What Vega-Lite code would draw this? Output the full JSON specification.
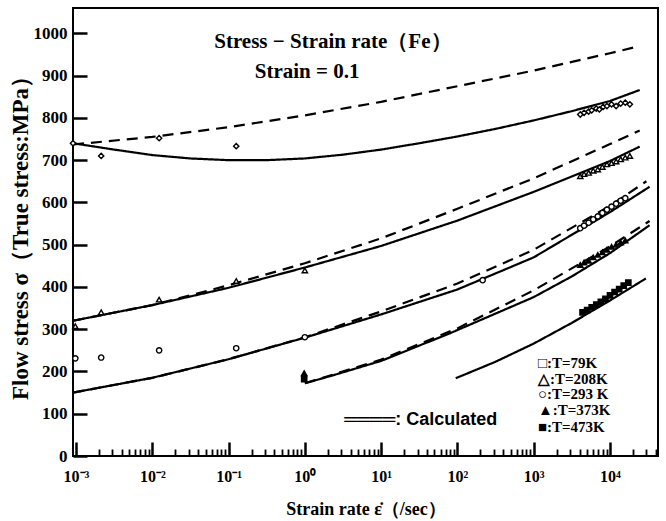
{
  "$schema": "https://vega.github.io/schema/vega-lite/v6.json",
  "width": 585,
  "height": 448,
  "autosize": "none",
  "padding": {"left": 73, "top": 8, "right": 8, "bottom": 65},
  "background": "white",
  "config": {"view": {"stroke": "black", "strokeWidth": 2}, "font": "Liberation Serif"},
  "datasets": {
    "curves": [
      {"curve": "79K calc", "kind": "calc", "rate": 0.000914, "stress": 737},
      {"curve": "79K calc", "kind": "calc", "rate": 0.01, "stress": 755},
      {"curve": "79K calc", "kind": "calc", "rate": 0.1, "stress": 778},
      {"curve": "79K calc", "kind": "calc", "rate": 1, "stress": 806},
      {"curve": "79K calc", "kind": "calc", "rate": 10, "stress": 838},
      {"curve": "79K calc", "kind": "calc", "rate": 100, "stress": 875},
      {"curve": "79K calc", "kind": "calc", "rate": 1000, "stress": 912},
      {"curve": "79K calc", "kind": "calc", "rate": 10000, "stress": 953},
      {"curve": "79K calc", "kind": "calc", "rate": 24500, "stress": 970},
      {"curve": "79K model", "kind": "model", "rate": 0.000914, "stress": 740},
      {"curve": "79K model", "kind": "model", "rate": 0.00316, "stress": 725},
      {"curve": "79K model", "kind": "model", "rate": 0.01, "stress": 712},
      {"curve": "79K model", "kind": "model", "rate": 0.0316, "stress": 704},
      {"curve": "79K model", "kind": "model", "rate": 0.1, "stress": 700},
      {"curve": "79K model", "kind": "model", "rate": 0.316, "stress": 700},
      {"curve": "79K model", "kind": "model", "rate": 1, "stress": 704},
      {"curve": "79K model", "kind": "model", "rate": 3.16, "stress": 713},
      {"curve": "79K model", "kind": "model", "rate": 10, "stress": 725},
      {"curve": "79K model", "kind": "model", "rate": 31.6, "stress": 740},
      {"curve": "79K model", "kind": "model", "rate": 100, "stress": 756},
      {"curve": "79K model", "kind": "model", "rate": 316, "stress": 774},
      {"curve": "79K model", "kind": "model", "rate": 1000, "stress": 794},
      {"curve": "79K model", "kind": "model", "rate": 3162, "stress": 816},
      {"curve": "79K model", "kind": "model", "rate": 10000, "stress": 840},
      {"curve": "79K model", "kind": "model", "rate": 24500, "stress": 866},
      {"curve": "208K calc", "kind": "calc", "rate": 0.000914, "stress": 320},
      {"curve": "208K calc", "kind": "calc", "rate": 0.01, "stress": 357},
      {"curve": "208K calc", "kind": "calc", "rate": 0.1, "stress": 404},
      {"curve": "208K calc", "kind": "calc", "rate": 1, "stress": 456},
      {"curve": "208K calc", "kind": "calc", "rate": 10, "stress": 515},
      {"curve": "208K calc", "kind": "calc", "rate": 100, "stress": 585},
      {"curve": "208K calc", "kind": "calc", "rate": 1000, "stress": 657},
      {"curve": "208K calc", "kind": "calc", "rate": 10000, "stress": 738},
      {"curve": "208K calc", "kind": "calc", "rate": 24500, "stress": 770},
      {"curve": "208K model", "kind": "model", "rate": 0.000914, "stress": 320},
      {"curve": "208K model", "kind": "model", "rate": 0.01, "stress": 357},
      {"curve": "208K model", "kind": "model", "rate": 0.1, "stress": 398},
      {"curve": "208K model", "kind": "model", "rate": 1, "stress": 446},
      {"curve": "208K model", "kind": "model", "rate": 10, "stress": 497},
      {"curve": "208K model", "kind": "model", "rate": 100, "stress": 557},
      {"curve": "208K model", "kind": "model", "rate": 1000, "stress": 625},
      {"curve": "208K model", "kind": "model", "rate": 10000, "stress": 698},
      {"curve": "208K model", "kind": "model", "rate": 24500, "stress": 732},
      {"curve": "293K calc", "kind": "calc", "rate": 0.000914, "stress": 150},
      {"curve": "293K calc", "kind": "calc", "rate": 0.01, "stress": 185},
      {"curve": "293K calc", "kind": "calc", "rate": 0.1, "stress": 229},
      {"curve": "293K calc", "kind": "calc", "rate": 1, "stress": 281},
      {"curve": "293K calc", "kind": "calc", "rate": 10, "stress": 342},
      {"curve": "293K calc", "kind": "calc", "rate": 100, "stress": 408},
      {"curve": "293K calc", "kind": "calc", "rate": 1000, "stress": 488},
      {"curve": "293K calc", "kind": "calc", "rate": 10000, "stress": 592},
      {"curve": "293K calc", "kind": "calc", "rate": 30000, "stress": 650},
      {"curve": "293K model", "kind": "model", "rate": 0.000914, "stress": 150},
      {"curve": "293K model", "kind": "model", "rate": 0.01, "stress": 185},
      {"curve": "293K model", "kind": "model", "rate": 0.1, "stress": 229},
      {"curve": "293K model", "kind": "model", "rate": 1, "stress": 280},
      {"curve": "293K model", "kind": "model", "rate": 10, "stress": 335},
      {"curve": "293K model", "kind": "model", "rate": 100, "stress": 394},
      {"curve": "293K model", "kind": "model", "rate": 1000, "stress": 470},
      {"curve": "293K model", "kind": "model", "rate": 10000, "stress": 577},
      {"curve": "293K model", "kind": "model", "rate": 33000, "stress": 637},
      {"curve": "373K calc", "kind": "calc", "rate": 1, "stress": 172},
      {"curve": "373K calc", "kind": "calc", "rate": 10, "stress": 228},
      {"curve": "373K calc", "kind": "calc", "rate": 100, "stress": 302},
      {"curve": "373K calc", "kind": "calc", "rate": 1000, "stress": 392},
      {"curve": "373K calc", "kind": "calc", "rate": 10000, "stress": 496},
      {"curve": "373K calc", "kind": "calc", "rate": 33000, "stress": 556},
      {"curve": "373K model", "kind": "model", "rate": 1, "stress": 172},
      {"curve": "373K model", "kind": "model", "rate": 2.35, "stress": 191},
      {"curve": "373K model", "kind": "model", "rate": 10, "stress": 225},
      {"curve": "373K model", "kind": "model", "rate": 79, "stress": 290},
      {"curve": "373K model", "kind": "model", "rate": 1000, "stress": 376},
      {"curve": "373K model", "kind": "model", "rate": 3162, "stress": 425},
      {"curve": "373K model", "kind": "model", "rate": 10000, "stress": 480},
      {"curve": "373K model", "kind": "model", "rate": 33000, "stress": 546},
      {"curve": "473K model", "kind": "model", "rate": 95, "stress": 184},
      {"curve": "473K model", "kind": "model", "rate": 316, "stress": 223},
      {"curve": "473K model", "kind": "model", "rate": 1000, "stress": 266},
      {"curve": "473K model", "kind": "model", "rate": 3162, "stress": 315},
      {"curve": "473K model", "kind": "model", "rate": 10000, "stress": 368},
      {"curve": "473K model", "kind": "model", "rate": 29500, "stress": 420}
    ],
    "points": [
      {"T": "79K", "rate": 0.000914, "stress": 740},
      {"T": "79K", "rate": 0.00214, "stress": 710},
      {"T": "79K", "rate": 0.0123, "stress": 752},
      {"T": "79K", "rate": 0.126, "stress": 733},
      {"T": "79K", "rate": 4074, "stress": 808},
      {"T": "79K", "rate": 4571, "stress": 812},
      {"T": "79K", "rate": 5248, "stress": 815},
      {"T": "79K", "rate": 5754, "stress": 818},
      {"T": "79K", "rate": 6607, "stress": 822},
      {"T": "79K", "rate": 7244, "stress": 820},
      {"T": "79K", "rate": 8128, "stress": 826},
      {"T": "79K", "rate": 9120, "stress": 828},
      {"T": "79K", "rate": 10471, "stress": 832},
      {"T": "79K", "rate": 12023, "stress": 828},
      {"T": "79K", "rate": 13804, "stress": 834},
      {"T": "79K", "rate": 15849, "stress": 836},
      {"T": "79K", "rate": 18197, "stress": 832},
      {"T": "208K", "rate": 0.00098, "stress": 307},
      {"T": "208K", "rate": 0.00214, "stress": 340},
      {"T": "208K", "rate": 0.0123, "stress": 370},
      {"T": "208K", "rate": 0.126, "stress": 414},
      {"T": "208K", "rate": 1, "stress": 439},
      {"T": "208K", "rate": 4074, "stress": 662},
      {"T": "208K", "rate": 4571, "stress": 667},
      {"T": "208K", "rate": 5248, "stress": 670},
      {"T": "208K", "rate": 6026, "stress": 675},
      {"T": "208K", "rate": 6918, "stress": 678},
      {"T": "208K", "rate": 7943, "stress": 684},
      {"T": "208K", "rate": 9120, "stress": 690},
      {"T": "208K", "rate": 10471, "stress": 693},
      {"T": "208K", "rate": 12023, "stress": 697},
      {"T": "208K", "rate": 13804, "stress": 702},
      {"T": "208K", "rate": 15849, "stress": 706},
      {"T": "208K", "rate": 18197, "stress": 710},
      {"T": "293K", "rate": 0.00098, "stress": 231},
      {"T": "293K", "rate": 0.00214, "stress": 233},
      {"T": "293K", "rate": 0.0123, "stress": 250},
      {"T": "293K", "rate": 0.126, "stress": 255},
      {"T": "293K", "rate": 1, "stress": 281},
      {"T": "293K", "rate": 214, "stress": 416},
      {"T": "293K", "rate": 4074, "stress": 539},
      {"T": "293K", "rate": 4571, "stress": 545},
      {"T": "293K", "rate": 5248, "stress": 552},
      {"T": "293K", "rate": 6026, "stress": 560},
      {"T": "293K", "rate": 6918, "stress": 567},
      {"T": "293K", "rate": 7943, "stress": 575},
      {"T": "293K", "rate": 9120, "stress": 583},
      {"T": "293K", "rate": 10471, "stress": 590},
      {"T": "293K", "rate": 12023, "stress": 597},
      {"T": "293K", "rate": 13804, "stress": 604},
      {"T": "293K", "rate": 15849, "stress": 610},
      {"T": "373K", "rate": 0.98, "stress": 196},
      {"T": "373K", "rate": 4074, "stress": 452},
      {"T": "373K", "rate": 4571, "stress": 458},
      {"T": "373K", "rate": 5248, "stress": 462},
      {"T": "373K", "rate": 6026, "stress": 470},
      {"T": "373K", "rate": 6918, "stress": 476},
      {"T": "373K", "rate": 7943, "stress": 482},
      {"T": "373K", "rate": 9120, "stress": 488},
      {"T": "373K", "rate": 10471, "stress": 495},
      {"T": "373K", "rate": 12023, "stress": 500},
      {"T": "373K", "rate": 13804, "stress": 505},
      {"T": "373K", "rate": 15849, "stress": 510},
      {"T": "473K", "rate": 0.98, "stress": 182},
      {"T": "473K", "rate": 4365, "stress": 340},
      {"T": "473K", "rate": 5012, "stress": 345},
      {"T": "473K", "rate": 5754, "stress": 352},
      {"T": "473K", "rate": 6607, "stress": 358},
      {"T": "473K", "rate": 7586, "stress": 365},
      {"T": "473K", "rate": 8710, "stress": 372},
      {"T": "473K", "rate": 10000, "stress": 380},
      {"T": "473K", "rate": 11482, "stress": 388},
      {"T": "473K", "rate": 13183, "stress": 395},
      {"T": "473K", "rate": 15136, "stress": 403},
      {"T": "473K", "rate": 17378, "stress": 410}
    ]
  },
  "layer": [
    {
      "data": {"name": "curves"},
      "mark": {"type": "line", "color": "black", "strokeWidth": 2.2},
      "encoding": {
        "x": {
          "field": "rate", "type": "quantitative",
          "scale": {"type": "log", "domain": [0.000914, 42560], "nice": false},
          "axis": {
            "zindex": 1,
            "orient": "bottom",
            "offset": -14,
            "values": [0.001, 0.01, 0.1, 1, 10, 100, 1000, 10000],
            "labelExpr": "'10' + ['⁻³','⁻²','⁻¹','⁰','¹','²','³','⁴'][round(log(datum.value)/LN10)+3]",
            "ticks": true, "tickSize": 14, "tickWidth": 2.5, "tickColor": "black", "tickOpacity": 1,
            "domain": false,
            "labelFont": "Liberation Serif", "labelFontWeight": "bold", "labelFontSize": 16, "labelColor": "black",
            "labelPadding": 12, "labelFlush": false, "labelOverlap": false, "labelBound": false, "grid": false,
            "title": "Strain rate ε̇（/sec）", "titleFont": "Liberation Serif", "titleFontSize": 18, "titleFontWeight": "bold", "titleColor": "black", "titlePadding": 16
          }
        },
        "y": {
          "field": "stress", "type": "quantitative",
          "scale": {"domain": [0, 1060], "nice": false},
          "axis": {
            "zindex": 1,
            "offset": -14,
            "values": [0, 100, 200, 300, 400, 500, 600, 700, 800, 900, 1000],
            "format": "d",
            "ticks": true, "tickSize": 14, "tickWidth": 2.5, "tickColor": "black", "tickOpacity": 1,
            "domain": false,
            "labelFont": "Liberation Serif", "labelFontWeight": "bold", "labelFontSize": 17, "labelColor": "black",
            "labelPadding": 6, "grid": false,
            "title": "Flow stress σ（True stress:MPa）", "titleFont": "Liberation Serif", "titleFontSize": 23, "titleFontWeight": "bold", "titleColor": "black", "titlePadding": 1
          }
        },
        "detail": {"field": "curve"},
        "strokeDash": {"field": "kind", "type": "nominal", "scale": {"domain": ["model", "calc"], "range": [[1, 0], [11, 7]]}, "legend": null}
      }
    },
    {
      "data": {"name": "points"},
      "mark": {"type": "point", "filled": true, "size": 28, "stroke": "black", "strokeWidth": 1.4, "opacity": 1},
      "encoding": {
        "x": {
          "field": "rate", "type": "quantitative",
          "axis": {
            "zindex": 1,
            "orient": "bottom",
            "offset": -7,
            "values": [0.002,0.003,0.004,0.005,0.006,0.007,0.008,0.009,0.02,0.03,0.04,0.05,0.06,0.07,0.08,0.09,0.2,0.3,0.4,0.5,0.6,0.7,0.8,0.9,2,3,4,5,6,7,8,9,20,30,40,50,60,70,80,90,200,300,400,500,600,700,800,900,2000,3000,4000,5000,6000,7000,8000,9000,20000,30000,40000],
            "ticks": true, "tickSize": 7, "tickWidth": 1.8, "tickColor": "black", "tickOpacity": 1,
            "labels": false, "domain": false, "grid": false, "title": null
          }
        },
        "y": {"field": "stress", "type": "quantitative"},
        "shape": {"field": "T", "type": "nominal", "scale": {"domain": ["79K", "208K", "293K", "373K", "473K"], "range": ["diamond", "triangle-up", "circle", "triangle-up", "square"]}, "legend": null},
        "fill": {"field": "T", "type": "nominal", "scale": {"domain": ["79K", "208K", "293K", "373K", "473K"], "range": ["white", "white", "white", "black", "black"]}, "legend": null}
      }
    },
    {
      "data": {"values": [{}]},
      "mark": {"type": "text", "font": "Liberation Serif", "fontWeight": "bold", "fontSize": 21, "color": "black"},
      "encoding": {
        "x": {"datum": 2.33, "type": "quantitative", "axis": null},
        "y": {"datum": 980, "type": "quantitative"},
        "text": {"value": "Stress − Strain rate（Fe）"}
      }
    },
    {
      "data": {"values": [{}]},
      "mark": {"type": "text", "font": "Liberation Serif", "fontWeight": "bold", "fontSize": 21, "color": "black"},
      "encoding": {
        "x": {"datum": 1.07, "type": "quantitative", "axis": null},
        "y": {"datum": 909, "type": "quantitative"},
        "text": {"value": "Strain = 0.1"}
      }
    },
    {
      "data": {"values": [{}]},
      "mark": {"type": "text", "font": "Liberation Sans", "fontWeight": "bold", "fontSize": 18, "color": "black"},
      "encoding": {
        "x": {"datum": 33, "type": "quantitative", "axis": null},
        "y": {"datum": 84, "type": "quantitative"},
        "text": {"value": "════: Calculated"}
      }
    },
    {
      "data": {"values": [
        {"label": "□:T=79K", "stress": 219},
        {"label": "△:T=208K", "stress": 183},
        {"label": "○:T=293 K", "stress": 147},
        {"label": "▲:T=373K", "stress": 108},
        {"label": "■:T=473K", "stress": 68}
      ]},
      "mark": {"type": "text", "align": "left", "font": "Liberation Serif", "fontWeight": "bold", "fontSize": 15, "color": "black"},
      "encoding": {
        "x": {"datum": 1135, "type": "quantitative", "axis": null},
        "y": {"field": "stress", "type": "quantitative"},
        "text": {"field": "label"}
      }
    }
  ],
  "resolve": {"axis": {"x": "independent"}}
}
